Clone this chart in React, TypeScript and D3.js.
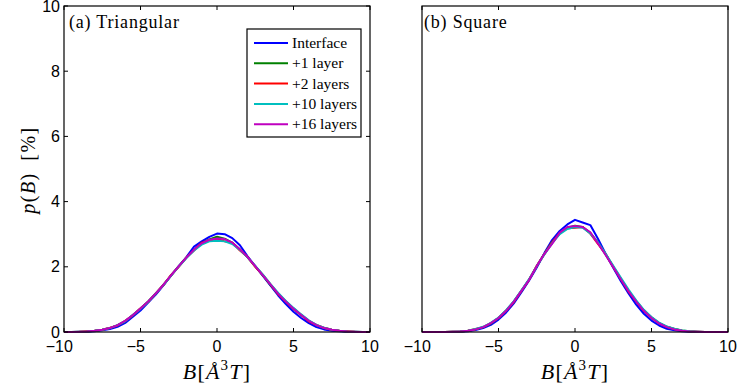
import React, { useEffect, useRef } from 'react'
import * as d3 from 'd3'

// B values (bin centres) shared by every curve
const B_VALUES = [
  -10, -9.5, -9, -8.5, -8, -7.5, -7, -6.5, -6, -5.5, -5, -4.5, -4, -3.5, -3, -2.5, -2, -1.5, -1, -0.5,
  0, 0.5, 1, 1.5, 2, 2.5, 3, 3.5, 4, 4.5, 5, 5.5, 6, 6.5, 7, 7.5, 8, 8.5, 9, 9.5, 10,
]

const SERIES_NAMES = ['Interface', '+1 layer', '+2 layers', '+10 layers', '+16 layers']
const SERIES_COLORS = ['#0000ff', '#008000', '#ff0000', '#00bfbf', '#bf00bf']

// (a) Triangular, p(B) in %
const TRI_INTERFACE = [
  0, 0, 0, 0.01, 0.02, 0.05, 0.09, 0.16, 0.28, 0.47, 0.66, 0.9, 1.15, 1.43, 1.74, 2.02, 2.3, 2.62, 2.78, 2.92,
  3.02, 3.0, 2.88, 2.66, 2.32, 2.02, 1.72, 1.42, 1.12, 0.86, 0.62, 0.43, 0.27, 0.15, 0.08, 0.04, 0.02, 0.01, 0, 0, 0,
]
const TRI_LAYER1 = [
  0, 0, 0.005, 0.015, 0.035, 0.07, 0.12, 0.21, 0.33, 0.52, 0.72, 0.94, 1.18, 1.45, 1.73, 2.02, 2.28, 2.52, 2.72, 2.84,
  2.92, 2.86, 2.74, 2.53, 2.29, 2.01, 1.74, 1.44, 1.17, 0.93, 0.71, 0.52, 0.34, 0.21, 0.12, 0.07, 0.035, 0.015, 0.005, 0, 0,
]
const TRI_LAYER2 = [
  0, 0, 0.005, 0.02, 0.04, 0.07, 0.13, 0.2, 0.34, 0.51, 0.73, 0.92, 1.19, 1.44, 1.75, 2.0, 2.29, 2.5, 2.74, 2.8,
  2.86, 2.78, 2.74, 2.5, 2.3, 2.0, 1.75, 1.46, 1.16, 0.94, 0.72, 0.53, 0.33, 0.22, 0.13, 0.07, 0.04, 0.02, 0.005, 0, 0,
]
const TRI_LAYER10 = [
  0, 0, 0.005, 0.015, 0.035, 0.07, 0.12, 0.21, 0.33, 0.52, 0.71, 0.93, 1.18, 1.44, 1.73, 2.01, 2.27, 2.5, 2.68, 2.78,
  2.8, 2.78, 2.7, 2.52, 2.29, 2.03, 1.76, 1.47, 1.2, 0.95, 0.74, 0.54, 0.36, 0.22, 0.13, 0.07, 0.035, 0.015, 0.005, 0, 0,
]
const TRI_LAYER16 = [
  0, 0, 0.005, 0.015, 0.035, 0.07, 0.12, 0.21, 0.34, 0.52, 0.72, 0.94, 1.18, 1.45, 1.74, 2.02, 2.28, 2.53, 2.72, 2.83,
  2.87, 2.85, 2.74, 2.54, 2.3, 2.02, 1.74, 1.45, 1.17, 0.93, 0.71, 0.52, 0.34, 0.21, 0.12, 0.07, 0.035, 0.015, 0.005, 0, 0,
]

// (b) Square, p(B) in %
const SQ_INTERFACE = [
  0, 0, 0, 0, 0, 0.01, 0.025, 0.06, 0.12, 0.22, 0.38, 0.6, 0.88, 1.22, 1.58, 1.98, 2.42, 2.82, 3.1, 3.3,
  3.44, 3.36, 3.28, 2.86, 2.4, 1.97, 1.56, 1.18, 0.84, 0.56, 0.35, 0.2, 0.1, 0.05, 0.02, 0.005, 0, 0, 0, 0, 0,
]
const SQ_LAYER1 = [
  0, 0, 0, 0, 0.005, 0.015, 0.04, 0.08, 0.15, 0.26, 0.43, 0.65, 0.93, 1.26, 1.61, 2.02, 2.4, 2.74, 3.02, 3.2,
  3.26, 3.22, 3.04, 2.74, 2.38, 2.0, 1.62, 1.26, 0.94, 0.66, 0.44, 0.27, 0.16, 0.09, 0.045, 0.02, 0.01, 0, 0, 0, 0,
]
const SQ_LAYER2 = [
  0, 0, 0, 0, 0.005, 0.015, 0.04, 0.09, 0.15, 0.27, 0.43, 0.66, 0.92, 1.27, 1.6, 2.03, 2.39, 2.75, 3.03, 3.18,
  3.2, 3.22, 3.02, 2.7, 2.4, 2.0, 1.63, 1.24, 0.95, 0.65, 0.45, 0.27, 0.16, 0.09, 0.04, 0.02, 0.01, 0, 0, 0, 0,
]
const SQ_LAYER10 = [
  0, 0, 0, 0, 0.005, 0.015, 0.04, 0.09, 0.16, 0.28, 0.44, 0.67, 0.95, 1.28, 1.62, 2.02, 2.38, 2.72, 3.0, 3.16,
  3.22, 3.2, 3.02, 2.75, 2.4, 2.03, 1.66, 1.3, 0.97, 0.68, 0.46, 0.29, 0.17, 0.1, 0.05, 0.02, 0.01, 0, 0, 0, 0,
]
const SQ_LAYER16 = [
  0, 0, 0, 0, 0.005, 0.015, 0.04, 0.08, 0.15, 0.27, 0.43, 0.65, 0.93, 1.26, 1.6, 2.02, 2.4, 2.7, 3.05, 3.22,
  3.25, 3.22, 3.06, 2.72, 2.36, 1.99, 1.61, 1.25, 0.93, 0.65, 0.43, 0.26, 0.15, 0.08, 0.04, 0.015, 0.005, 0, 0, 0, 0,
]

const X_TICKS = [-10, -5, 0, 5, 10]
const Y_TICKS = [0, 2, 4, 6, 8, 10]

const TICK_FONT = 'Liberation Sans, Arial, sans-serif'
const SERIF = 'Liberation Serif, Times New Roman, serif'

function App() {
  const svgRef = useRef<SVGSVGElement>(null)
  const width = 739
  const height = 387

  useEffect(() => {
    const svg = d3.select(svgRef.current)
    svg.selectAll('*').remove()

    const top = 6
    const bottom = 332
    const panels = [
      { x0: 64, x1: 370, title: '(a) Triangular', series: [TRI_INTERFACE, TRI_LAYER1, TRI_LAYER2, TRI_LAYER10, TRI_LAYER16], yAxis: true },
      { x0: 422, x1: 728, title: '(b) Square', series: [SQ_INTERFACE, SQ_LAYER1, SQ_LAYER2, SQ_LAYER10, SQ_LAYER16], yAxis: false },
    ]

    const yScale = d3.scaleLinear().domain([0, 10]).range([bottom, top])

    panels.forEach(p => {
      const xScale = d3.scaleLinear().domain([-10, 10]).range([p.x0, p.x1])
      const g = svg.append('g')

      // curves
      const line = d3.line<number>()
        .x((_, i) => xScale(B_VALUES[i]))
        .y(d => yScale(d))

      p.series.forEach((vals, k) => {
        g.append('path')
          .datum(vals)
          .attr('d', line)
          .attr('fill', 'none')
          .attr('stroke', SERIES_COLORS[k])
          .attr('stroke-width', 2)
          .attr('stroke-linejoin', 'round')
      })

      // box
      g.append('rect')
        .attr('x', p.x0)
        .attr('y', top)
        .attr('width', p.x1 - p.x0)
        .attr('height', bottom - top)
        .attr('fill', 'none')
        .attr('stroke', '#000')
        .attr('stroke-width', 1.2)

      // x ticks (inward, top and bottom); minus sign hangs left of the digits
      X_TICKS.forEach(t => {
        const x = xScale(t)
        g.append('line').attr('x1', x).attr('x2', x).attr('y1', bottom).attr('y2', bottom - 4)
          .attr('stroke', '#000').attr('stroke-width', 1)
        g.append('line').attr('x1', x).attr('x2', x).attr('y1', top).attr('y2', top + 4)
          .attr('stroke', '#000').attr('stroke-width', 1)
        const lbl = g.append('text')
          .attr('x', x)
          .attr('y', bottom + 20)
          .attr('text-anchor', 'middle')
          .style('font-family', TICK_FONT)
          .style('font-size', '16px')
          .text(`${Math.abs(t)}`)
        if (t < 0) {
          const bb = (lbl.node() as SVGTextElement).getBBox()
          g.append('text')
            .attr('x', bb.x)
            .attr('y', bottom + 20)
            .attr('text-anchor', 'end')
            .style('font-family', TICK_FONT)
            .style('font-size', '16px')
            .text('\u2212')
        }
      })

      if (p.yAxis) {
        Y_TICKS.forEach(t => {
          const y = yScale(t)
          g.append('line').attr('x1', p.x0).attr('x2', p.x0 + 4).attr('y1', y).attr('y2', y)
            .attr('stroke', '#000').attr('stroke-width', 1)
          g.append('line').attr('x1', p.x1).attr('x2', p.x1 - 4).attr('y1', y).attr('y2', y)
            .attr('stroke', '#000').attr('stroke-width', 1)
          g.append('text')
            .attr('x', p.x0 - 4)
            .attr('y', y + 5.5)
            .attr('text-anchor', 'end')
            .style('font-family', TICK_FONT)
            .style('font-size', '16px')
            .text(`${t}`)
        })
      }

      // panel title
      g.append('text')
        .attr('x', p.x0 + (p.yAxis ? 5 : 2))
        .attr('y', 28)
        .style('font-family', SERIF)
        .style('font-size', '18px')
        .style('letter-spacing', '0.8px')
        .text(p.title)

      // x label B[Å^3 T]
      const xl = g.append('text')
        .attr('x', (p.x0 + p.x1) / 2)
        .attr('y', 379)
        .attr('text-anchor', 'middle')
        .style('font-family', SERIF)
        .style('font-size', '22px')
        .style('letter-spacing', '1.2px')
      xl.append('tspan').style('font-style', 'italic').text('B')
      xl.append('tspan').text('[')
      xl.append('tspan').style('font-style', 'italic').text('Å')
      xl.append('tspan').attr('dy', -9).style('font-size', '15px').text('3')
      xl.append('tspan').attr('dy', 9).style('font-style', 'italic').text('T')
      xl.append('tspan').text(']')
    })

    // y label
    const yl = svg.append('text')
      .attr('transform', 'translate(35,170) rotate(-90)')
      .attr('text-anchor', 'middle')
      .style('font-family', SERIF)
      .style('font-size', '20px')
      .style('letter-spacing', '1.5px')
    yl.append('tspan').style('font-style', 'italic').text('p')
    yl.append('tspan').text('(')
    yl.append('tspan').style('font-style', 'italic').text('B')
    yl.append('tspan').text(')\u2002[%]')

    // legend (in left panel)
    const legend = svg.append('g')
    legend.append('rect')
      .attr('x', 247)
      .attr('y', 29)
      .attr('width', 114)
      .attr('height', 108)
      .attr('fill', '#fff')
      .attr('stroke', '#000')
      .attr('stroke-width', 1.2)

    SERIES_NAMES.forEach((name, i) => {
      const y = 43 + i * 20.3
      legend.append('line')
        .attr('x1', 254).attr('x2', 288).attr('y1', y).attr('y2', y)
        .attr('stroke', SERIES_COLORS[i]).attr('stroke-width', 2)
      legend.append('text')
        .attr('x', 292)
        .attr('y', y + 5)
        .style('font-family', SERIF)
        .style('font-size', '15.5px')
        .text(name)
    })
  }, [])

  return (
    <svg
      ref={svgRef}
      width={width}
      height={height}
      style={{ position: 'absolute', left: 0, top: 0, background: '#fff' }}
    />
  )
}

export default App
